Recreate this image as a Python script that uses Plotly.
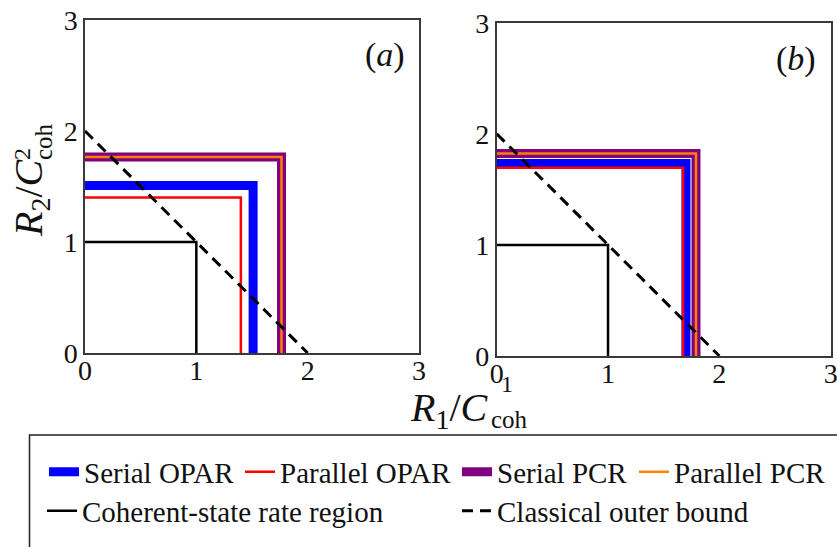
import plotly.graph_objects as go

W, H = 837, 547

# ---------------- data ----------------
panels = ["a", "b"]
tick_vals = [0, 1, 2, 3]
tick_text = ["0", "1", "2", "3"]
axis_range = [0, 3]

serial_opar_r1 = [1.51, 1.70]
serial_opar_r2 = [1.51, 1.733]
parallel_opar_r1 = [1.40, 1.674]
parallel_opar_r2 = [1.40, 1.695]
serial_pcr_r1 = [1.765, 1.79]
serial_pcr_r2 = [1.765, 1.823]
parallel_pcr_r1 = [1.765, 1.79]
parallel_pcr_r2 = [1.765, 1.823]
coherent_r1 = [1.0, 1.0]
coherent_r2 = [1.0, 1.0]
classical_sum = [2.0, 2.0]

series_names = ["Serial OPAR", "Parallel OPAR", "Serial PCR", "Parallel PCR",
                "Coherent-state rate region", "Classical outer bound"]

# ---------------- helpers ----------------
def px_x(p):
    return p / W


def px_y(p):
    return 1 - p / H


FONT = "Liberation Serif, Times New Roman, serif"
TXT = "#111"

fig = go.Figure()

styles = [
    dict(color="#0000ff", width=9),
    dict(color="#ff0000", width=2.5),
    dict(color="#800080", width=9),
    dict(color="#ff8000", width=2.5),
    dict(color="#000000", width=2.5),
]
dash_style = "11px,7px"
legend_ids = ["legend", "legend2", "legend3", "legend4", "legend5", "legend6"]

for i, p in enumerate(panels):
    xa = "x" if i == 0 else "x2"
    ya = "y" if i == 0 else "y2"
    regions = [
        (serial_opar_r1[i], serial_opar_r2[i]),
        (parallel_opar_r1[i], parallel_opar_r2[i]),
        (serial_pcr_r1[i], serial_pcr_r2[i]),
        (parallel_pcr_r1[i], parallel_pcr_r2[i]),
        (coherent_r1[i], coherent_r2[i]),
    ]
    for k, (r1, r2) in enumerate(regions):
        fig.add_trace(go.Scatter(
            x=[0, r1, r1], y=[r2, r2, 0], mode="lines",
            line=dict(color=styles[k]["color"], width=styles[k]["width"]),
            name=series_names[k], showlegend=(i == 0), legend=legend_ids[k],
            xaxis=xa, yaxis=ya, hoverinfo="skip"))
    s = classical_sum[i]
    fig.add_trace(go.Scatter(
        x=[0, s], y=[s, 0], mode="lines",
        line=dict(color="black", width=3, dash=dash_style),
        name=series_names[5], showlegend=(i == 0), legend=legend_ids[5],
        xaxis=xa, yaxis=ya, hoverinfo="skip"))

axis_common = dict(range=axis_range, tickvals=tick_vals, ticktext=tick_text,
                   showgrid=False, zeroline=False, showline=True, mirror=True,
                   linecolor="#3a3a3a", linewidth=1.5, ticks="", automargin=False,
                   ticklabeloverflow="allow",
                   tickfont=dict(family=FONT, size=28, color=TXT))
xaxis_extra = dict(ticklabelstandoff=-8)

fig.update_layout(
    width=W, height=H, margin=dict(l=0, r=0, t=0, b=0, autoexpand=False),
    paper_bgcolor="white", plot_bgcolor="white",
    xaxis=dict(domain=[px_x(85), px_x(419)], anchor="y", **axis_common, **xaxis_extra),
    yaxis=dict(domain=[px_y(353), px_y(20)], anchor="x", **axis_common),
    xaxis2=dict(domain=[px_x(496.7), px_x(830.7)], anchor="y2", **axis_common, **xaxis_extra),
    yaxis2=dict(domain=[px_y(356), px_y(22.7)], anchor="x2", **axis_common),
)

# legends, one per entry, positioned individually
leg_pos = [(44, 472), (240, 472), (457, 472), (634, 472), (42, 511), (457, 511)]
for lid, (lx, ly) in zip(legend_ids, leg_pos):
    fig.update_layout({lid: dict(x=px_x(lx), y=px_y(ly), xanchor="left", yanchor="middle",
                                 orientation="h", bgcolor="rgba(0,0,0,0)", borderwidth=0,
                                 font=dict(family=FONT, size=29, color=TXT))})

# legend frame
fig.add_shape(type="rect", xref="paper", yref="paper",
              x0=px_x(29.5), x1=1.05, y0=-0.1, y1=px_y(435),
              line=dict(color="#2b1d1d", width=1.5))


def note(x, y, text, size, angle=0, xanchor="center"):
    fig.add_annotation(x=px_x(x), y=px_y(y), xref="paper", yref="paper", showarrow=False,
                       xanchor=xanchor, yanchor="middle", textangle=angle, text=text,
                       font=dict(family=FONT, size=size, color=TXT))


# panel labels
note(385, 55, "(<i>a</i>)", 34)
note(796, 59, "(<i>b</i>)", 34)

# x axis title
note(491, 410, "<i>R</i><sub>1</sub>/<i>C</i>", 40, xanchor="right")
note(507, 384, "1", 24)
note(509, 419, "coh", 25)

# y axis title (rotated)
note(31, 198, "<i>R</i><sub>2</sub>/<i>C</i>", 40, angle=-90)
note(22, 154, "2", 24, angle=-90)
note(44, 142, "coh", 25, angle=-90)

fig.write_html("out.html")
